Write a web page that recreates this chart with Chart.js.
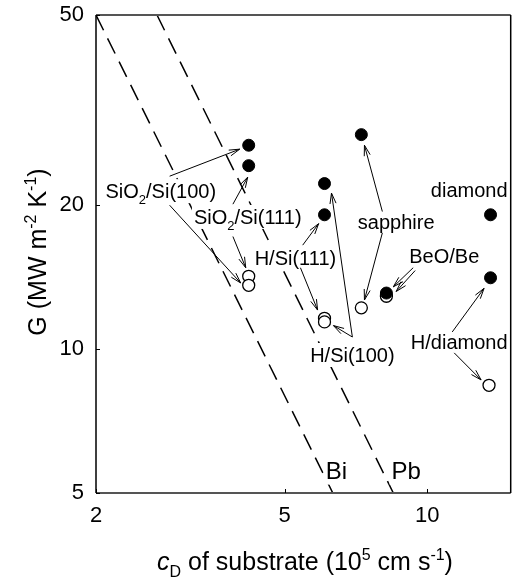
<!DOCTYPE html>
<html>
<head>
<meta charset="utf-8">
<script src="https://cdn.jsdelivr.net/npm/chart.js@4/dist/chart.umd.min.js"></script>
<style>
  html, body { margin: 0; padding: 0; background: #fff; }
  canvas { display: block; }
</style>
</head>
<body>
<canvas id="chart" width="518" height="582"></canvas>
<script>
// tick values
const xTicks = [2, 5, 10];
const yTicks = [5, 10, 20, 50];

// measured G values (filled = one set, open = the other)
const filledX = [4.2, 4.2, 6.07, 6.07, 7.26, 8.2, 13.6, 13.6];
const filledY = [26.7, 24.2, 22.2, 19.1, 28.1, 13.1, 19.1, 14.1];
const openX = [4.2, 4.2, 6.07, 6.07, 7.26, 8.2, 13.5];
const openY = [14.2, 13.6, 11.6, 11.4, 12.2, 12.9, 8.4];

// reference lines (G ~ cD^-2)
const biX = [2, 6.32];
const biY = [50, 5];
const pbX = [2.69, 8.48];
const pbY = [50, 5];

// annotation labels, anchored in data units
const labelText = ['SiO_2/Si(100)', 'SiO_2/Si(111)', 'H/Si(111)', 'sapphire', 'diamond',
    'BeO/Be', 'H/Si(100)', 'H/diamond', 'Bi', 'Pb'];
const labelX = [2.74, 4.18, 5.27, 8.6, 12.26, 10.86, 6.95, 11.68, 6.43, 9.03];
const labelY = [21.4, 18.9, 15.5, 18.5, 21.5, 15.7, 9.72, 10.35, 5.58, 5.58];
const labelSize = [20, 20, 20, 20, 20, 20, 20, 20, 24, 24];

// arrows from label to point
const arrowFromX = [2.86, 2.86, 3.89, 3.89, 5.46, 5.40, 6.95, 6.95, 8.04, 8.04, 9.34, 9.43, 11.29, 11.4];
const arrowFromY = [23.0, 20.0, 20.1, 17.2, 16.5, 14.8, 10.6, 10.6, 19.4, 17.5, 14.8, 14.6, 10.86, 9.82];
const arrowToX = [4.02, 4.04, 4.18, 4.14, 5.90, 5.87, 6.28, 6.34, 7.37, 7.37, 8.48, 8.60, 13.18, 12.99];
const arrowToY = [26.2, 13.75, 22.9, 14.8, 18.3, 12.07, 21.2, 11.2, 26.7, 12.67, 13.5, 13.2, 13.4, 8.62];

const FONT = '"Liberation Sans", Arial, Helvetica, sans-serif';
const pts = (xs, ys) => xs.map((x, i) => ({ x: x, y: ys[i] }));

// split text into normal / _sub / ^sup parts
const richParts = (str) => {
    const parts = [];
    const re = /([_^])(\{[^}]*\}|.)/g;
    let last = 0, m;
    while ((m = re.exec(str)) !== null) {
        if (m.index > last) parts.push({ t: str.slice(last, m.index), k: 'n' });
        let t = m[2];
        if (t[0] === '{') t = t.slice(1, -1);
        parts.push({ t: t, k: m[1] === '_' ? 'sub' : 'sup' });
        last = re.lastIndex;
    }
    if (last < str.length) parts.push({ t: str.slice(last), k: 'n' });
    return parts;
};

// centred text at (x, y)
const drawRich = (ctx, str, x, y, size, opts = {}) => {
    const parts = richParts(str);
    const small = Math.round(size * 0.65);
    const fontOf = (p) => {
        const s = p.k === 'n' ? size : small;
        const it = p.italic ? 'italic ' : '';
        return it + s + 'px ' + FONT;
    };
    if (opts.italicFirst) parts[0].italic = true;
    let w = 0;
    parts.forEach(p => { ctx.font = fontOf(p); p.w = ctx.measureText(p.t).width; w += p.w; });
    let cx = x - w / 2;
    if (opts.bg) {
        ctx.fillStyle = '#fff';
        ctx.fillRect(cx - 2, y - size * 0.6, w + 4, size * 1.2);
    }
    ctx.fillStyle = '#000';
    ctx.textAlign = 'left';
    ctx.textBaseline = 'alphabetic';
    const base = y + size * 0.36;
    parts.forEach(p => {
        ctx.font = fontOf(p);
        let dy = 0;
        if (p.k === 'sub') dy = size * 0.28;
        if (p.k === 'sup') dy = -size * 0.42;
        ctx.fillText(p.t, cx, base + dy);
        cx += p.w;
    });
};

const drawArrow = (ctx, x1, y1, x2, y2) => {
    const ang = Math.atan2(y2 - y1, x2 - x1);
    const len = 11, spread = 0.28;
    ctx.beginPath();
    ctx.moveTo(x1, y1);
    ctx.lineTo(x2, y2);
    ctx.moveTo(x2 - len * Math.cos(ang - spread), y2 - len * Math.sin(ang - spread));
    ctx.lineTo(x2, y2);
    ctx.lineTo(x2 - len * Math.cos(ang + spread), y2 - len * Math.sin(ang + spread));
    ctx.stroke();
};

const annotatePlugin = {
    id: 'annotate',
    afterDatasetsDraw(chart) {
        const { ctx, scales: { x, y } } = chart;
        ctx.save();
        labelText.forEach((t, i) => {
            drawRich(ctx, t, x.getPixelForValue(labelX[i]), y.getPixelForValue(labelY[i]), labelSize[i], { bg: true });
        });
        ctx.strokeStyle = '#000';
        ctx.lineWidth = 1;
        arrowFromX.forEach((fx, i) => {
            drawArrow(ctx,
                x.getPixelForValue(fx), y.getPixelForValue(arrowFromY[i]),
                x.getPixelForValue(arrowToX[i]), y.getPixelForValue(arrowToY[i]));
        });
        ctx.restore();
    },
    afterDraw(chart) {
        const { ctx, chartArea: a, scales: { x, y } } = chart;
        ctx.save();
        // frame
        ctx.lineWidth = 2;
        ctx.strokeStyle = '#555';
        ctx.beginPath();
        ctx.moveTo(a.left, a.top); ctx.lineTo(a.right, a.top);
        ctx.moveTo(a.left, a.bottom); ctx.lineTo(a.right, a.bottom);
        ctx.stroke();
        ctx.lineWidth = 1.5;
        ctx.strokeStyle = '#000';
        ctx.beginPath();
        ctx.moveTo(a.left, a.top); ctx.lineTo(a.left, a.bottom);
        ctx.moveTo(a.right, a.top); ctx.lineTo(a.right, a.bottom);
        ctx.stroke();
        // inward ticks
        ctx.lineWidth = 1;
        ctx.beginPath();
        xTicks.forEach(v => {
            const px = Math.round(x.getPixelForValue(v)) + 0.5;
            ctx.moveTo(px, a.bottom); ctx.lineTo(px, a.bottom - 4);
        });
        yTicks.forEach(v => {
            const py = Math.round(y.getPixelForValue(v)) + 0.5;
            ctx.moveTo(a.left, py); ctx.lineTo(a.left + 4, py);
        });
        ctx.stroke();
        // axis titles
        drawRich(ctx, 'c_D of substrate (10^5 cm s^{-1})', 305, 561, 25, { italicFirst: true });
        ctx.translate(37, 252);
        ctx.rotate(-Math.PI / 2);
        drawRich(ctx, 'G (MW m^{-2} K^{-1})', 0, 0, 25);
        ctx.restore();
    }
};

const tickFont = { family: FONT, size: 22 };

new Chart(document.getElementById('chart'), {
    type: 'scatter',
    data: {
        datasets: [
            {
                data: pts(filledX, filledY),
                pointRadius: 6,
                pointBackgroundColor: '#000',
                pointBorderColor: '#000',
                pointBorderWidth: 1
            },
            {
                data: pts(openX, openY),
                pointRadius: 6,
                pointBackgroundColor: '#fff',
                pointBorderColor: '#000',
                pointBorderWidth: 1.3
            },
            {
                data: pts(biX, biY),
                showLine: true,
                borderColor: '#000',
                borderWidth: 1.5,
                borderDash: [17, 9],
                pointRadius: 0
            },
            {
                data: pts(pbX, pbY),
                showLine: true,
                borderColor: '#000',
                borderWidth: 1.5,
                borderDash: [17, 9],
                pointRadius: 0
            }
        ]
    },
    options: {
        responsive: false,
        animation: false,
        devicePixelRatio: 1,
        layout: { padding: { left: 0, right: 5, top: 15, bottom: 0 } },
        plugins: { legend: { display: false }, tooltip: { enabled: false } },
        scales: {
            x: {
                type: 'logarithmic',
                min: 2,
                max: 15,
                grid: { display: false, drawTicks: false },
                border: { display: false },
                afterBuildTicks: (scale) => { scale.ticks = xTicks.map(v => ({ value: v })); },
                afterFit: (scale) => {
                    scale.height = 89;
                    scale.paddingLeft = 0;
                    scale.paddingRight = 0;
                },
                ticks: {
                    color: '#000',
                    font: tickFont,
                    padding: 10,
                    maxRotation: 0,
                    autoSkip: false,
                    callback: (v) => String(v)
                }
            },
            y: {
                type: 'logarithmic',
                min: 5,
                max: 50,
                grid: { display: false, drawTicks: false },
                border: { display: false },
                afterBuildTicks: (scale) => { scale.ticks = yTicks.map(v => ({ value: v })); },
                afterFit: (scale) => {
                    scale.width = 96;
                    scale.paddingTop = 0;
                    scale.paddingBottom = 0;
                },
                ticks: {
                    color: '#000',
                    font: tickFont,
                    padding: 12,
                    autoSkip: false,
                    callback: (v) => String(v)
                }
            }
        }
    },
    plugins: [annotatePlugin]
});
</script>
</body>
</html>
